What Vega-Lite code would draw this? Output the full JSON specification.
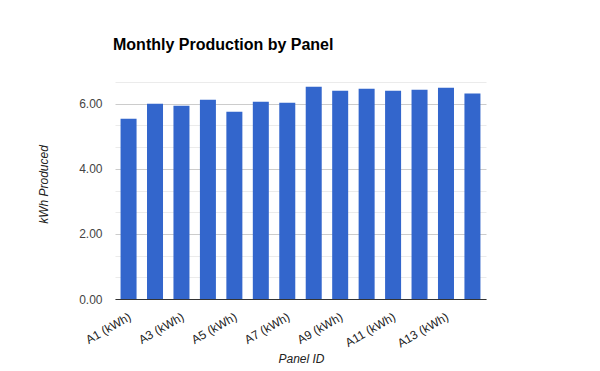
{
  "$schema": "https://vega.github.io/schema/vega-lite/v6.json",
  "autosize": "none",
  "width": 371,
  "height": 217,
  "padding": {"left": 115, "top": 82, "right": 114, "bottom": 72},
  "background": "#ffffff",
  "config": {
    "font": "Liberation Sans",
    "view": {"stroke": null}
  },
  "title": {
    "text": "Monthly Production by Panel",
    "anchor": "start",
    "frame": "group",
    "fontSize": 16,
    "fontWeight": "bold",
    "color": "#000000",
    "baseline": "alphabetic",
    "offset": 16,
    "dx": -2
  },
  "data": {
    "values": [
      {"panel": "A1 (kWh)", "kwh": 5.54},
      {"panel": "A2 (kWh)", "kwh": 6.00},
      {"panel": "A3 (kWh)", "kwh": 5.94},
      {"panel": "A4 (kWh)", "kwh": 6.12},
      {"panel": "A5 (kWh)", "kwh": 5.75},
      {"panel": "A6 (kWh)", "kwh": 6.06},
      {"panel": "A7 (kWh)", "kwh": 6.03},
      {"panel": "A8 (kWh)", "kwh": 6.52},
      {"panel": "A9 (kWh)", "kwh": 6.40},
      {"panel": "A10 (kWh)", "kwh": 6.46},
      {"panel": "A11 (kWh)", "kwh": 6.40},
      {"panel": "A12 (kWh)", "kwh": 6.43},
      {"panel": "A13 (kWh)", "kwh": 6.49},
      {"panel": "A14 (kWh)", "kwh": 6.31}
    ]
  },
  "mark": {"type": "bar", "color": "#3366cc"},
  "encoding": {
    "x": {
      "field": "panel",
      "type": "nominal",
      "sort": null,
      "scale": {"paddingInner": 0.395, "paddingOuter": 0.21},
      "axis": {
        "title": "Panel ID",
        "titleFont": "Liberation Sans",
        "titleFontSize": 12,
        "titleFontStyle": "italic",
        "titleFontWeight": "normal",
        "titleColor": "#222222",
        "titleX": 186,
        "titleY": 63,
        "titleAlign": "center",
        "titleBaseline": "alphabetic",
        "values": ["A1 (kWh)", "A3 (kWh)", "A5 (kWh)", "A7 (kWh)", "A9 (kWh)", "A11 (kWh)", "A13 (kWh)"],
        "labelAngle": -30,
        "labelAlign": "right",
        "labelBaseline": "top",
        "labelPadding": 12,
        "labelOffset": -1,
        "labelFontSize": 12,
        "labelColor": "#222222",
        "labelOverlap": false,
        "ticks": false,
        "grid": false,
        "domainColor": "#333333",
        "domainWidth": 1
      }
    },
    "y": {
      "field": "kwh",
      "type": "quantitative",
      "scale": {"domain": [0, 6.6667], "nice": false, "zero": true},
      "axis": {
        "title": "kWh Produced",
        "titleFontSize": 12,
        "titleFontStyle": "italic",
        "titleFontWeight": "normal",
        "titleColor": "#222222",
        "titleAngle": -90,
        "titleX": -68,
        "titleY": 102,
        "titleAlign": "center",
        "titleBaseline": "alphabetic",
        "values": [0, 0.6667, 1.3333, 2, 2.6667, 3.3333, 4, 4.6667, 5.3333, 6, 6.6667],
        "labelExpr": "indexof([0, 2, 4, 6], datum.value) >= 0 ? format(datum.value, '.2f') : ''",
        "labelFontSize": 12,
        "labelColor": "#444444",
        "labelPadding": 13,
        "ticks": false,
        "domain": false,
        "grid": true,
        "gridColor": {"condition": {"test": "indexof([0, 2, 4, 6], datum.value) >= 0", "value": "#cccccc"}, "value": "#ebebeb"},
        "gridWidth": 1
      }
    }
  }
}
